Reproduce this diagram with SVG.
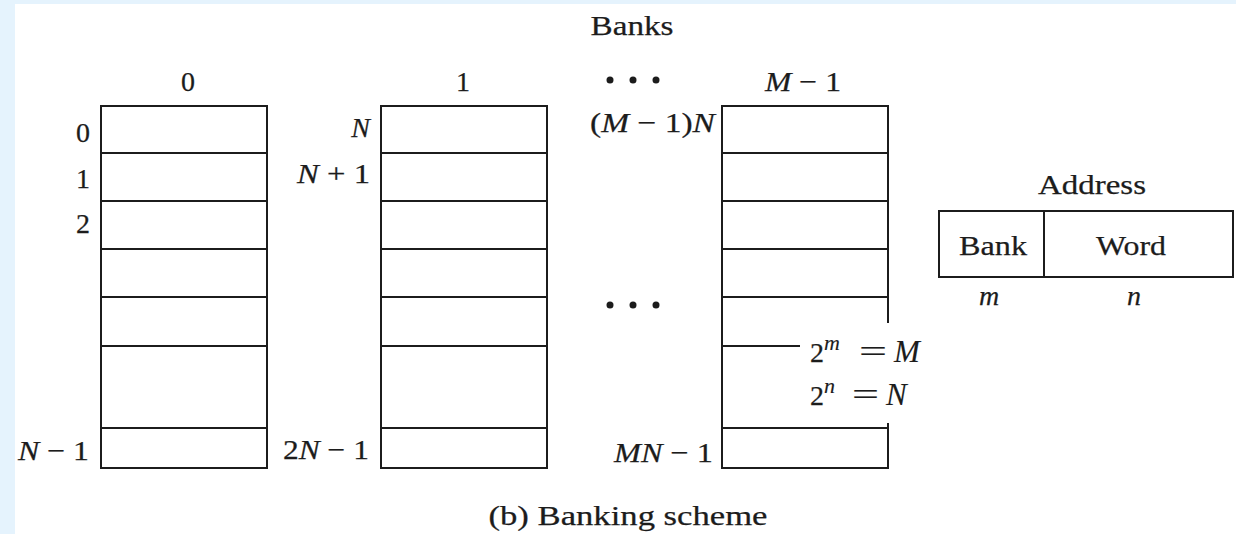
<svg xmlns="http://www.w3.org/2000/svg" width="1236" height="534" viewBox="0 0 1236 534">
<style>
.ln{stroke:#1c1c1c;stroke-width:2;fill:none}
.t{font-family:"Liberation Serif","Times New Roman",serif;font-size:28px;fill:#1c1c1c;stroke:#1c1c1c;stroke-width:0.25}
.i{font-style:italic}
.sup{font-size:22px;stroke-width:0.15}
.eq{font-size:31px;stroke-width:0.15}
.dot{fill:#1c1c1c}
</style>
<rect x="0" y="0" width="1236" height="534" fill="#e5f3fd"/>
<rect x="15" y="4" width="1221" height="530" fill="#ffffff"/>
<defs>
<g id="bankShape">
<rect class="ln" x="0" y="106" width="166" height="362"/>
<path class="ln" d="M0 153H166M0 201H166M0 249H166M0 297H166M0 346H166M0 428H166"/>
</g>
</defs>
<g id="connectors"></g>
<g id="title">
<text class="t" x="632" y="35" text-anchor="middle" textLength="83" lengthAdjust="spacingAndGlyphs">Banks</text>
</g>
<g id="bank0">
<use href="#bankShape" x="101"/>
<text class="t" x="188" y="91" text-anchor="middle">0</text>
<text class="t" x="90" y="142" text-anchor="end">0</text>
<text class="t" x="90" y="188" text-anchor="end">1</text>
<text class="t" x="90" y="233" text-anchor="end">2</text>
<text class="t" x="18" y="460" textLength="71" lengthAdjust="spacingAndGlyphs"><tspan class="i">N</tspan> − 1</text>
</g>
<g id="bank1">
<use href="#bankShape" x="381"/>
<text class="t" x="463" y="91" text-anchor="middle">1</text>
<text class="t i" x="370" y="137" text-anchor="end">N</text>
<text class="t" x="297" y="183" textLength="73" lengthAdjust="spacingAndGlyphs"><tspan class="i">N</tspan> + 1</text>
<text class="t" x="283" y="459" textLength="86" lengthAdjust="spacingAndGlyphs">2<tspan class="i">N</tspan> − 1</text>
</g>
<g id="ellipsis">
<circle class="dot" cx="610" cy="80" r="3.5"/>
<circle class="dot" cx="633" cy="80" r="3.5"/>
<circle class="dot" cx="656" cy="80" r="3.5"/>
<circle class="dot" cx="610" cy="305" r="3.5"/>
<circle class="dot" cx="633" cy="305" r="3.5"/>
<circle class="dot" cx="656" cy="305" r="3.5"/>
</g>
<g id="bankM1">
<use href="#bankShape" x="722"/>
<text class="t" x="765" y="91" textLength="76" lengthAdjust="spacingAndGlyphs"><tspan class="i">M</tspan> − 1</text>
<text class="t" x="590" y="132" textLength="125" lengthAdjust="spacingAndGlyphs">(<tspan class="i">M</tspan> − 1)<tspan class="i">N</tspan></text>
<text class="t" x="614" y="462" textLength="99" lengthAdjust="spacingAndGlyphs"><tspan class="i">MN</tspan> − 1</text>
</g>
<g id="relations">
<rect x="800" y="323" width="94" height="100" fill="#ffffff"/>
<text class="t" x="810" y="362">2</text>
<text class="t i sup" x="824" y="350">m</text>
<text class="t eq" x="859" y="362" textLength="28" lengthAdjust="spacingAndGlyphs">=</text>
<text class="t i eq" x="894" y="362">M</text>
<text class="t" x="810" y="405">2</text>
<text class="t i sup" x="824" y="393">n</text>
<text class="t eq" x="852" y="405" textLength="27" lengthAdjust="spacingAndGlyphs">=</text>
<text class="t i eq" x="886" y="405">N</text>
</g>
<g id="address">
<text class="t" x="1092" y="194" text-anchor="middle" textLength="108" lengthAdjust="spacingAndGlyphs">Address</text>
<rect class="ln" x="939" y="211" width="294" height="66"/>
<path class="ln" d="M1044 211V277"/>
<text class="t" x="993" y="255" text-anchor="middle" textLength="68" lengthAdjust="spacingAndGlyphs">Bank</text>
<text class="t" x="1131" y="255" text-anchor="middle" textLength="70" lengthAdjust="spacingAndGlyphs">Word</text>
<text class="t i" x="989" y="305" text-anchor="middle">m</text>
<text class="t i" x="1134" y="305" text-anchor="middle">n</text>
</g>
<g id="caption">
<text class="t" x="628" y="525" text-anchor="middle" textLength="279" lengthAdjust="spacingAndGlyphs">(b) Banking scheme</text>
</g>
</svg>
